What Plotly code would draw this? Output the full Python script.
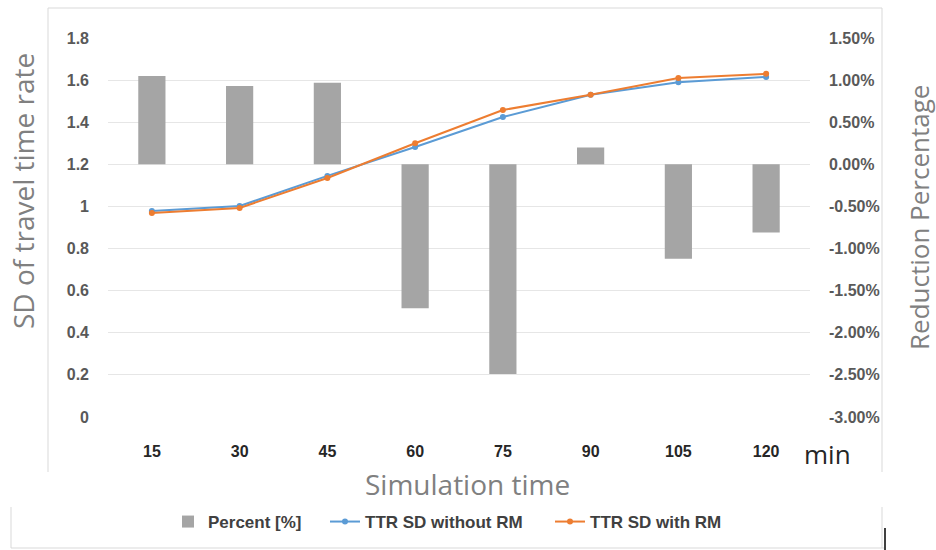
import plotly.graph_objects as go

categories = ["15", "30", "45", "60", "75", "90", "105", "120"]
percent = [0.0105, 0.0093, 0.0097, -0.0171, -0.0249, 0.0020, -0.0112, -0.0081]
ttr_without_rm = [0.978, 1.002, 1.145, 1.282, 1.425, 1.530, 1.590, 1.615]
ttr_with_rm = [0.969, 0.993, 1.135, 1.300, 1.458, 1.530, 1.610, 1.630]
pct_tickvals = [0.015, 0.01, 0.005, 0.0, -0.005, -0.01, -0.015, -0.02, -0.025, -0.03]
pct_ticktext = ["1.50%", "1.00%", "0.50%", "0.00%", "-0.50%", "-1.00%", "-1.50%",
                "-2.00%", "-2.50%", "-3.00%"]

W, H = 936, 550
# plot area in window pixels
L, R, T, B = 108, 810, 38, 417


def px(x):
    return (x - L) / (R - L)


def py(y):
    return (B - y) / (B - T)


fig = go.Figure()
fig.add_trace(go.Bar(x=categories, y=percent, name="Percent [%]", legend="legend",
                     marker=dict(color="#a5a5a5", line=dict(width=0)), yaxis="y"))
fig.add_trace(go.Scatter(x=categories, y=ttr_without_rm, name="TTR SD without RM",
                         mode="lines+markers", yaxis="y2", legend="legend2",
                         line=dict(color="#5b9bd5", width=2),
                         marker=dict(color="#5b9bd5", size=6)))
fig.add_trace(go.Scatter(x=categories, y=ttr_with_rm, name="TTR SD with RM",
                         mode="lines+markers", yaxis="y2", legend="legend3",
                         line=dict(color="#ed7d31", width=2),
                         marker=dict(color="#ed7d31", size=6)))

tickfont = dict(family="Liberation Sans", size=16, color="#595959", weight="bold")
grid = "#e6e6e6"

shapes = []
line_col = "#d9d9d9"


def seg(x0, y0, x1, y1, color=line_col, width=1):
    shapes.append(dict(type="line", xref="paper", yref="paper",
                       x0=px(x0), y0=py(y0), x1=px(x1), y1=py(y1),
                       line=dict(color=color, width=width)))


# upper frame
seg(48, 8, 882, 8)
seg(48, 8, 48, 472)
seg(882, 8, 882, 472)
# lower frame
seg(11, 507, 11, 548)
seg(11, 548, 884, 548)
seg(882, 507, 882, 548)
seg(885, 528, 885, 550, color="#404040", width=2)

title_font = dict(family="Open Sans", size=28, color="#808080")


def ann(text, x, y, font, angle=0):
    return dict(text=text, x=px(x), y=py(y), xref="paper", yref="paper",
                xanchor="center", yanchor="middle", showarrow=False,
                textangle=angle, font=font)


annotations = [
    ann("min", 828, 454, dict(family="Open Sans", size=26, color="#262626")),
    ann("Simulation time", 467, 484, title_font),
    ann("SD of travel time rate", 23, 191, title_font, -90),
    ann("Reduction Percentage", 919, 218, dict(family="Open Sans", size=26, color="#808080"), -90),
]

legend_font = dict(family="Liberation Sans", size=17, color="#404040", weight="bold")


def leg(text_start):
    return dict(orientation="h", x=px(text_start - 40), y=py(522), xanchor="left",
                yanchor="middle", font=legend_font, itemwidth=30,
                bgcolor="rgba(0,0,0,0)")


fig.update_layout(
    width=W, height=H,
    margin=dict(l=L, r=W - R, t=T, b=H - B, pad=0, autoexpand=False),
    paper_bgcolor="white", plot_bgcolor="white",
    bargap=0.69,
    showlegend=True,
    legend=leg(208),
    legend2=leg(365),
    legend3=leg(590),
    xaxis=dict(type="category", showgrid=False, showline=False, zeroline=False,
               ticks="", tickfont=dict(family="Liberation Sans", size=16, color="#262626",
                                       weight="bold"),
               ticklabelstandoff=23),
    yaxis=dict(side="right", range=[-0.03, 0.015], tickvals=pct_tickvals, ticktext=pct_ticktext,
               showgrid=False, zeroline=False, showline=False,
               ticks="", tickfont=tickfont, ticklabelstandoff=18),
    yaxis2=dict(overlaying="y", side="left", range=[0, 1.8], dtick=0.2, tick0=0,
                showgrid=True, gridcolor=grid, gridwidth=1, zeroline=False,
                showline=False, ticks="", tickfont=tickfont, ticklabelstandoff=18),
    shapes=shapes,
    annotations=annotations,
)

fig.write_html(
    "out.html",
    config={"displayModeBar": False},
    post_script="document.body.style.margin='0';document.body.style.overflow='hidden';",
)
